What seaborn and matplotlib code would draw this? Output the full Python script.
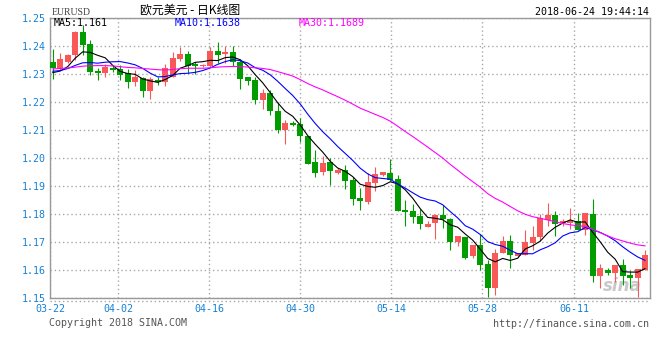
import numpy as np
import pandas as pd
import matplotlib
matplotlib.use("Agg")
import matplotlib.pyplot as plt
import seaborn as sns
from matplotlib.lines import Line2D

# ---------------- data (EUR/USD daily candles, 03-22 .. 06-22) ----------------
opens = [1.2343, 1.2320, 1.2343, 1.2368, 1.2451, 1.2407, 1.2312, 1.2302, 1.2323, 1.2317,
         1.2303, 1.2270, 1.2285, 1.2241, 1.2279, 1.2273, 1.2291, 1.2354, 1.2372, 1.2335,
         1.2328, 1.2327, 1.2383, 1.2370, 1.2379, 1.2342, 1.2288, 1.2279, 1.2208, 1.2234,
         1.2169, 1.2102, 1.2125, 1.2122, 1.2080, 1.1987, 1.1950, 1.1987, 1.1948, 1.1958,
         1.1922, 1.1859, 1.1845, 1.1912, 1.1940, 1.1948, 1.1926, 1.1815, 1.1813, 1.1794,
         1.1755, 1.1767, 1.1798, 1.1782, 1.1701, 1.1720, 1.1650, 1.1689, 1.1624, 1.1536,
         1.1662, 1.1704, 1.1650, 1.1656, 1.1698, 1.1719, 1.1780, 1.1797, 1.1770, 1.1767,
         1.1776, 1.1744, 1.1800, 1.1578, 1.1602, 1.1590, 1.1620, 1.1584, 1.1571, 1.1602]
highs = [1.2389, 1.2376, 1.2370, 1.2452, 1.2475, 1.2421, 1.2321, 1.2335, 1.2333, 1.2333,
         1.2317, 1.2315, 1.2291, 1.2291, 1.2288, 1.2335, 1.2380, 1.2398, 1.2382, 1.2344,
         1.2337, 1.2398, 1.2415, 1.2400, 1.2400, 1.2354, 1.2291, 1.2291, 1.2247, 1.2244,
         1.2200, 1.2135, 1.2131, 1.2143, 1.2080, 1.2029, 1.2008, 1.1999, 1.1965, 1.1976,
         1.1934, 1.1895, 1.1946, 1.1970, 1.1952, 1.1996, 1.1940, 1.1851, 1.1836, 1.1818,
         1.1776, 1.1800, 1.1834, 1.1788, 1.1722, 1.1720, 1.1689, 1.1728, 1.1638, 1.1677,
         1.1722, 1.1725, 1.1662, 1.1744, 1.1758, 1.1800, 1.1840, 1.1811, 1.1782, 1.1823,
         1.1806, 1.1803, 1.1854, 1.1624, 1.1608, 1.1619, 1.1641, 1.1596, 1.1606, 1.1674]
lows = [1.2284, 1.2315, 1.2341, 1.2350, 1.2368, 1.2297, 1.2279, 1.2288, 1.2309, 1.2279,
        1.2252, 1.2259, 1.2217, 1.2212, 1.2262, 1.2259, 1.2290, 1.2347, 1.2303, 1.2300,
        1.2325, 1.2324, 1.2338, 1.2338, 1.2327, 1.2247, 1.2262, 1.2194, 1.2176, 1.2155,
        1.2090, 1.2049, 1.2114, 1.2058, 1.1978, 1.1932, 1.1940, 1.1904, 1.1942, 1.1890,
        1.1833, 1.1815, 1.1836, 1.1884, 1.1938, 1.1920, 1.1813, 1.1759, 1.1768, 1.1746,
        1.1755, 1.1710, 1.1752, 1.1672, 1.1686, 1.1641, 1.1642, 1.1602, 1.1504, 1.1512,
        1.1662, 1.1608, 1.1648, 1.1656, 1.1674, 1.1704, 1.1758, 1.1722, 1.1758, 1.1746,
        1.1744, 1.1725, 1.1557, 1.1535, 1.1584, 1.1559, 1.1548, 1.1536, 1.1506, 1.1602]
closes = [1.2320, 1.2354, 1.2368, 1.2451, 1.2404, 1.2309, 1.2302, 1.2324, 1.2316, 1.2297,
          1.2270, 1.2288, 1.2241, 1.2282, 1.2271, 1.2321, 1.2359, 1.2372, 1.2327, 1.2330,
          1.2333, 1.2383, 1.2368, 1.2379, 1.2342, 1.2283, 1.2277, 1.2208, 1.2234, 1.2167,
          1.2102, 1.2125, 1.2119, 1.2078, 1.1979, 1.1948, 1.1984, 1.1955, 1.1958, 1.1920,
          1.1854, 1.1848, 1.1916, 1.1942, 1.1950, 1.1922, 1.1813, 1.1809, 1.1791, 1.1765,
          1.1765, 1.1798, 1.1782, 1.1701, 1.1722, 1.1644, 1.1689, 1.1620, 1.1536, 1.1662,
          1.1704, 1.1653, 1.1660, 1.1701, 1.1720, 1.1785, 1.1797, 1.1764, 1.1776, 1.1776,
          1.1744, 1.1803, 1.1578, 1.1607, 1.1590, 1.1619, 1.1581, 1.1571, 1.1606, 1.1654]
# closes before the visible window (estimated), only used to warm up the moving averages
prior_closes = [1.2290, 1.2335, 1.2350, 1.2300, 1.2260, 1.2285, 1.2330, 1.2345, 1.2380, 1.2350,
                1.2330, 1.2310, 1.2350, 1.2335, 1.2360, 1.2300, 1.2280, 1.2290, 1.2320, 1.2340,
                1.2330, 1.2295, 1.2340, 1.2310, 1.2300, 1.2325, 1.2290, 1.2300, 1.2290]
date_labels = ["03-22", "04-02", "04-16", "04-30", "05-14", "05-28", "06-11"]
y_ticks = [1.15, 1.16, 1.17, 1.18, 1.19, 1.20, 1.21, 1.22, 1.23, 1.24, 1.25]
ma_periods = [5, 10, 30]
ma_latest = ["1.161", "1.1638", "1.1689"]
ma_colors = ["#000000", "#0000ff", "#ff00ff"]

# ---------------- layout ----------------
W, H = 660, 360
sns.set_theme(style="white")
plt.rcParams["font.family"] = ["DejaVu Sans Mono", "Noto Sans CJK SC"]

fig = plt.figure(figsize=(W / 100, H / 100), dpi=100)
fig.patch.set_facecolor("white")
ax_l, ax_r, ax_t, ax_b = 50, 649.7, 18, 298.3
ax = fig.add_axes([ax_l / W, 1 - ax_b / H, (ax_r - ax_l) / W, (ax_b - ax_t) / H])
ax.set_facecolor("white")

n = len(closes)
idx = np.arange(n)
step_px = 7.5
first_px = 52.7
x_left = -(first_px - ax_l) / step_px
x_right = x_left + (ax_r - ax_l) / step_px
ax.set_xlim(x_left, x_right)
ax.set_ylim(1.15, 1.25)

o = np.array(opens); c = np.array(closes); hi = np.array(highs); lo = np.array(lows)
up = c >= o
red, green = "#f85858", "#009c00"
cols = np.where(up, red, green)

# wicks
ax.vlines(idx, lo, hi, colors=cols, linewidth=0.8, zorder=3)
# bodies
body_bottom = np.minimum(o, c)
body_h = np.maximum(np.abs(c - o), 0.0004)
ax.bar(idx, body_h, bottom=body_bottom, width=0.76, color=cols, linewidth=0, zorder=4)

# moving averages
full = pd.Series(prior_closes + closes)
k = len(prior_closes)
ma_frames = []
for p in ma_periods:
    vals = full.rolling(p).mean().iloc[k:].to_numpy()
    ma_frames.append(pd.DataFrame({"i": idx, "value": vals, "ma": f"MA{p}"}))
ma_long = pd.concat(ma_frames, ignore_index=True)
sns.lineplot(data=ma_long, x="i", y="value", hue="ma",
             palette={f"MA{p}": col for p, col in zip(ma_periods, ma_colors)},
             linewidth=0.8, legend=False, ax=ax, zorder=5)
ax.set_xlabel("")
ax.set_ylabel("")

# grid / ticks
grid_px = [ax_l, 118.3, 209.3, 300.3, 391.3, 482.3, 574.3]
xt = [(g - first_px) / step_px for g in grid_px]
xt[0] = x_left
ax.set_xticks(xt)
ax.set_xticklabels(date_labels)
ax.set_yticks(y_ticks)
ax.set_yticklabels([f"{v:.2f}" for v in y_ticks])
ax.grid(True, linestyle=(0, (1, 2)), color="#a8a8a8", linewidth=1.0, zorder=0)
ax.tick_params(axis="both", length=0, labelcolor="#1580d4", labelsize=7.2)
ax.tick_params(axis="y", pad=3.0)
ax.tick_params(axis="x", pad=4.0)
for s in ax.spines.values():
    s.set_color("#999999")
    s.set_linewidth(1.0)
    s.set_visible(True)

# dotted line just below the x axis
fig.add_artist(Line2D([ax_l / W, ax_r / W], [1 - 300.6 / H, 1 - 300.6 / H],
                      color="#a8a8a8", linewidth=1.0, linestyle=(0, (1, 2))))

# watermark
ax.text(0.955, 0.045, "sina", transform=ax.transAxes, ha="center", va="center",
        fontsize=12, fontstyle="italic", fontweight="bold", color="#c8c8c8",
        family="DejaVu Sans", zorder=1)

def px(x, y):
    return x / W, 1 - y / H

for (xx, p, lab, col) in zip([54, 174.3, 299], ma_periods, ma_latest, ma_colors):
    fig.text(*px(xx, 23.5), f"MA{p}:{lab}", color=col, fontsize=7.2, ha="left", va="center")

fig.text(*px(52, 12.5), "EURUSD", color="#444444", fontsize=7, family="Liberation Serif",
         ha="left", va="center")
fig.text(*px(140, 10), "欧元美元 - 日K线图", color="black", fontsize=8.6,
         family=["Noto Sans CJK SC", "DejaVu Sans"], ha="left", va="center")
fig.text(*px(649, 12), "2018-06-24 19:44:14", color="black", fontsize=7.2,
         ha="right", va="center")
fig.text(*px(49, 323.5), "Copyright 2018 SINA.COM", color="#555555", fontsize=7.2,
         ha="left", va="center")
fig.text(*px(649.5, 324), "http://finance.sina.com.cn", color="#555555", fontsize=7.2,
         ha="right", va="center")

fig.savefig("out.png", dpi=100, facecolor="white")
